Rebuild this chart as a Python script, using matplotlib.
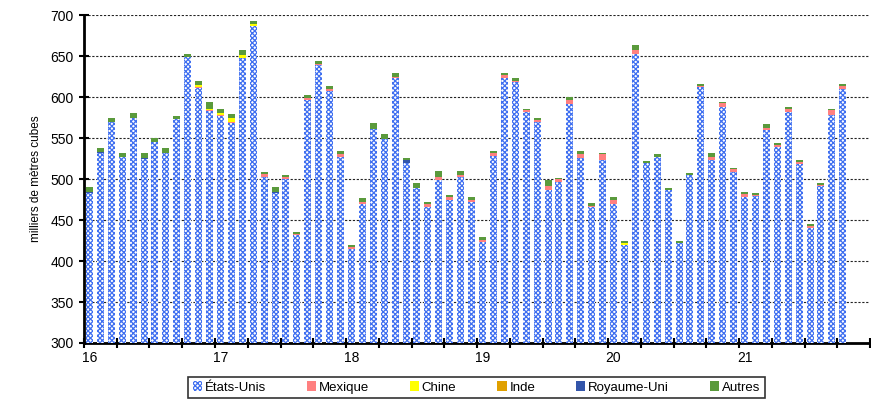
import matplotlib
matplotlib.use("Agg")
import matplotlib.pyplot as plt
import numpy as np

plt.rcParams['font.family'] = ['Liberation Sans', 'DejaVu Sans']
plt.rcParams['hatch.linewidth'] = 0.9

# monthly values, Jan 2016 -> Oct 2021 (thousand m3)
years = ["16", "17", "18", "19", "20", "21"]

etats_unis = [483, 532, 570, 527, 575, 524, 545, 532, 573, 648.5, 611, 583.5,
              577, 569, 648, 687, 503, 483, 500, 432, 597, 639, 608, 527.5,
              414.5, 470, 561, 548.5, 623, 520, 488.5, 466.5, 499, 475, 503, 472,
              423.5, 528.5, 623, 618, 582, 570, 486.5, 496.5, 591, 525.5, 466.5, 523.5,
              470, 420, 653, 519, 527, 486.5, 422.5, 505, 612, 523.5, 588, 509,
              478, 479, 560, 539.5, 581.5, 518.5, 440, 491, 578.5, 609.5]
mexique = [0, 0, 0, 0, 0, 0, 0, 0, 0, 0.5, 1, 0.5,
           1.5, 1, 0, 0, 3, 0, 2.5, 0.5, 2, 2, 2, 2.5,
           2.5, 1.5, 0, 0, 2, 0, 0, 3.5, 4, 3, 2.5, 2.5,
           2.5, 3.5, 3.5, 2, 2.5, 2.5, 5, 3, 5, 4.5, 0.5, 6.5,
           4, 0, 5, 0, 0, 0, 0, 0, 2, 4, 4.5, 3,
           3.5, 2, 2.5, 2.5, 3.5, 2.5, 2.5, 2, 5.5, 4.5]
chine = [0, 0, 0, 0, 0, 0, 0, 0, 0, 0, 3, 1.5,
         2, 5, 3, 2, 0, 0, 0, 0, 0, 0, 0, 0,
         0, 0, 0, 0, 0, 0, 0, 0, 0, 0, 0, 0,
         0, 0, 0, 0, 0, 0, 0, 0, 0, 0, 0, 0,
         0, 2.5, 0, 0, 0, 0, 0, 0, 0, 0, 0, 0,
         0, 0, 0, 0, 0, 0, 0, 0, 0, 0]
inde = [0] * 70
royaume_uni = [1, 1.5, 0, 0, 0, 1.5, 0, 0, 0, 0, 0, 0,
               0, 0, 0, 0, 0, 1, 0, 0, 0, 0, 0, 0,
               0, 0, 0, 0, 0, 3, 0, 0, 0, 0, 0, 0,
               0, 0, 0, 0, 0, 0, 0, 0, 0, 0, 0, 0,
               0, 0, 0, 0, 0, 0, 0, 0, 0, 0, 0, 0,
               0, 0, 0, 0, 0, 0, 0, 0, 0, 0]
autres = [6, 4, 5, 5, 6, 6.5, 5, 6, 4, 4, 5, 8.5,
          5.5, 4, 7, 4, 3, 6, 2.5, 3, 3, 2.5, 4, 4,
          2, 5, 8, 6.5, 4, 3, 6.5, 2, 6.5, 3, 4, 3.5,
          3, 2.5, 2.5, 3, 1.5, 1.5, 7.5, 2, 4, 4, 4, 2,
          4, 2, 6, 3, 3, 2.5, 2.5, 2.5, 2.5, 4.5, 2, 2,
          3, 1.5, 4.5, 2.5, 3, 2, 2.5, 2, 2, 2.5]

series = [
    ("États-Unis", etats_unis, "white", "#3f6ff0", "xxxxxxx"),
    ("Mexique", mexique, "#ff8080", "none", None),
    ("Chine", chine, "#ffff00", "none", None),
    ("Inde", inde, "#e0a000", "none", None),
    ("Royaume-Uni", royaume_uni, "#3355aa", "none", None),
    ("Autres", autres, "#5a9a3c", "none", None),
]

x = np.arange(len(etats_unis))
fig = plt.figure(figsize=(8.71, 3.99), dpi=100)
ax = fig.add_axes([0.0964, 0.1404, 0.9026, 0.8216])

bottom = np.zeros(len(x))
handles = []
for name, vals, fc, ec, hatch in series:
    vals = np.array(vals, dtype=float)
    b = ax.bar(x, vals, width=0.64, bottom=bottom, color=fc, edgecolor=ec,
               hatch=hatch, linewidth=0, label=name, zorder=3)
    handles.append(b)
    bottom += vals

ax.set_ylim(300, 700)
ax.set_xlim(-0.5, 71.5)
ax.set_yticks(np.arange(300, 701, 50))
ax.yaxis.grid(True, color="#222222", linestyle=(0, (2, 1.5)), linewidth=0.8, zorder=0)
ax.set_axisbelow(True)

# quarter tick marks, year labels on January bars
ax.set_xticks(np.arange(-0.5, 72, 3))
ax.set_xticklabels([])
ax.set_xticks(np.arange(0, 72, 12), minor=True)
ax.set_xticklabels(years, minor=True)
ax.tick_params(axis="x", which="major", direction="inout", length=7, width=1.5)
ax.tick_params(axis="x", which="minor", length=0, labelsize=10, pad=6)
ax.tick_params(axis="y", direction="inout", length=7, width=1.5, labelsize=10, pad=4)

for s in ["top", "right"]:
    ax.spines[s].set_visible(False)
ax.spines["left"].set_linewidth(2)
ax.spines["bottom"].set_linewidth(2)

ax.set_ylabel("milliers de mètres cubes", fontsize=8.5, labelpad=6)

leg = fig.legend(handles=handles, loc="upper center", bbox_to_anchor=(0.547, 0.072),
                 ncol=6, fontsize=9.5, frameon=True, fancybox=False,
                 handlelength=0.7, handleheight=0.7, handletextpad=0.2,
                 columnspacing=3.1, borderpad=0.35)
leg.get_frame().set_edgecolor("black")
leg.get_frame().set_linewidth(1.2)

fig.savefig("out.png", dpi=100)
